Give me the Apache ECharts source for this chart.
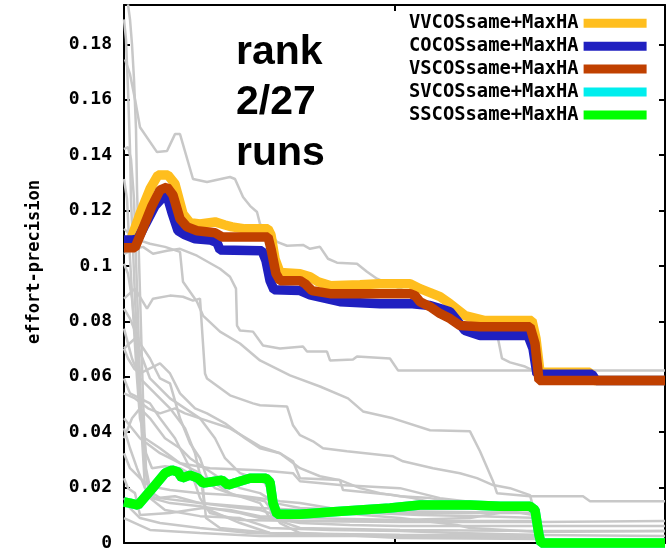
<!DOCTYPE html>
<html>
<head>
<meta charset="utf-8">
<script src="https://cdn.jsdelivr.net/npm/echarts/dist/echarts.min.js"></script>
<style>html,body{margin:0;padding:0;background:#fff}#c{width:668px;height:552px}</style>
</head>
<body>
<div id="c"></div>
<script>
// x: run step (0..541), y: effort-precision
const X_MAX = 541;
const Y_MAX = 0.1942;
const yTicks = [0, 0.02, 0.04, 0.06, 0.08, 0.1, 0.12, 0.14, 0.16, 0.18];
const seriesNames = ['VVCOSsame+MaxHA','COCOSsame+MaxHA','VSCOSsame+MaxHA','SVCOSsame+MaxHA','SSCOSsame+MaxHA'];
const seriesColors = ['#FFBE1E','#2020C0','#C04000','#00EEEE','#00FF00'];
const rankText = ['rank','2/27','runs'];

const VVCOS = [[0,0.1087],[6,0.1087],[16,0.1188],[26,0.1278],[34,0.1328],[44,0.1328],[51,0.1296],[59,0.1188],[66,0.1156],[76,0.1152],[91,0.1159],[101,0.1148],[108,0.1141],[121,0.1134],[144,0.1134],[147,0.1112],[151,0.1026],[156,0.0976],[176,0.0972],[186,0.0961],[194,0.0943],[206,0.0929],[236,0.0932],[256,0.0936],[286,0.0936],[296,0.0918],[306,0.0904],[316,0.0889],[326,0.0864],[341,0.0821],[361,0.0803],[408,0.0803],[412,0.0738],[416,0.0616],[466,0.0616],[470,0.0587],[541,0.0587]];
const COCOS = [[0,0.1094],[9,0.1094],[14,0.1098],[21,0.1148],[31,0.1217],[39,0.1249],[44,0.1242],[48,0.1192],[54,0.1127],[61,0.1112],[71,0.1098],[86,0.1094],[93,0.1084],[96,0.1058],[138,0.1055],[142,0.1019],[146,0.0947],[150,0.0914],[176,0.0911],[186,0.0896],[216,0.0871],[256,0.0864],[286,0.0864],[306,0.0857],[316,0.0846],[326,0.0835],[341,0.0767],[356,0.0749],[404,0.0749],[409,0.0702],[413,0.0609],[468,0.0609],[472,0.0587],[541,0.0587]];
const VSCOS = [[0,0.1066],[11,0.1066],[18,0.1127],[28,0.1217],[36,0.1274],[43,0.1285],[49,0.1256],[56,0.117],[63,0.1141],[73,0.1127],[91,0.112],[98,0.1105],[111,0.1105],[144,0.1105],[147,0.1062],[152,0.0972],[156,0.0947],[176,0.0947],[181,0.0936],[188,0.0911],[206,0.09],[286,0.09],[291,0.0893],[296,0.0871],[306,0.0853],[316,0.0828],[326,0.081],[336,0.0785],[356,0.0781],[406,0.0781],[411,0.072],[415,0.0587],[541,0.0587]];
const SVCOS = [[0,0.0148],[6,0.0144],[14,0.0137],[26,0.0187],[41,0.0252],[48,0.0263],[54,0.0256],[58,0.0234],[66,0.0245],[74,0.0234],[79,0.0216],[91,0.0223],[98,0.0227],[104,0.0209],[116,0.0223],[126,0.0234],[142,0.0234],[146,0.022],[149,0.0144],[153,0.0104],[176,0.0104],[206,0.0112],[236,0.0119],[266,0.0126],[296,0.0137],[326,0.0137],[346,0.0137],[376,0.0133],[406,0.0133],[411,0.0119],[415,0.0029],[417,0],[541,0]];
const SSCOS = [[0,0.0148],[6,0.0144],[14,0.0137],[26,0.0187],[41,0.0252],[48,0.0263],[54,0.0256],[58,0.0234],[66,0.0245],[74,0.0234],[79,0.0216],[91,0.0223],[98,0.0227],[104,0.0209],[116,0.0223],[126,0.0234],[142,0.0234],[146,0.022],[149,0.0144],[153,0.0104],[176,0.0104],[206,0.0112],[236,0.0119],[266,0.0126],[296,0.0137],[326,0.0137],[346,0.0137],[376,0.0133],[406,0.0133],[411,0.0119],[415,0.0029],[417,0],[541,0]];

const run01 = [[4,0.1944],[6,0.189],[8,0.18],[10,0.1674],[12,0.1494],[13,0.1278],[15,0.1026],[17,0.0774],[19,0.0522],[22,0.027],[28,0.0162],[46,0.0144],[76,0.0133],[116,0.0108],[136,0.009],[176,0.0079],[276,0.0076],[414,0.0076],[541,0.0079]];
const run02 = [[0,0.1422],[4,0.1429],[7,0.1386],[10,0.1242],[12,0.1026],[14,0.081],[16,0.0594],[18,0.0378],[21,0.0198],[36,0.0162],[76,0.0144],[136,0.0126],[176,0.0119],[276,0.0108],[406,0.0108],[416,0.009]];
const run03 = [[1,0.1746],[6,0.1692],[11,0.1602],[16,0.1501],[33,0.1411],[43,0.1415],[51,0.1476],[56,0.1476],[69,0.1314],[83,0.1303],[106,0.1321],[111,0.1314],[119,0.1249],[126,0.1217],[133,0.1195],[136,0.1152],[148,0.1109],[153,0.1087],[163,0.1073],[179,0.1076],[186,0.1062],[196,0.1069],[204,0.1026],[213,0.1012],[233,0.1008],[243,0.0979],[253,0.0954],[276,0.0918],[296,0.0882],[326,0.0817],[361,0.0749],[374,0.0738],[378,0.0666],[386,0.0652],[401,0.0637],[409,0.0623],[414,0.0587],[541,0.0587]];
const run04 = [[0,0.1044],[11,0.1062],[19,0.1069],[29,0.1044],[43,0.1055],[56,0.1062],[73,0.1037],[96,0.099],[106,0.0961],[112,0.0918],[113,0.0785],[116,0.0767],[129,0.0763],[139,0.0713],[156,0.0702],[179,0.0709],[183,0.0691],[203,0.0691],[206,0.0659],[229,0.0662],[233,0.0673],[266,0.0666],[274,0.0623],[541,0.0623]];
const run05 = [[0,0.1134],[11,0.1098],[26,0.108],[41,0.1069],[56,0.1051],[59,0.0943],[73,0.0871],[79,0.0821],[96,0.0763],[116,0.072],[136,0.0659],[166,0.0605],[196,0.0565],[224,0.0522],[239,0.0475],[269,0.045],[306,0.0407],[346,0.0403],[356,0.0331],[369,0.0223],[373,0.018],[406,0.0169],[459,0.0169],[466,0.0151],[541,0.0151]];
const run06 = [[0,0.0882],[11,0.0918],[23,0.0846],[29,0.0882],[46,0.0893],[59,0.0889],[69,0.0875],[76,0.0882],[78,0.0774],[81,0.0612],[83,0.0594],[106,0.0533],[129,0.0504],[136,0.0497],[163,0.0493],[169,0.0425],[176,0.0389],[189,0.0367],[199,0.0342],[223,0.0331],[269,0.0313],[279,0.0295],[309,0.027],[336,0.0252],[353,0.0234],[369,0.0209],[386,0.0198],[406,0.0173],[412,0.009],[416,0.0054]];
const run07 = [[0,0.0702],[11,0.0738],[26,0.0594],[46,0.0522],[76,0.045],[106,0.0414],[136,0.0349],[156,0.0324],[169,0.0295],[176,0.0234],[216,0.0227],[219,0.0191],[269,0.0173],[289,0.0162],[303,0.0151],[323,0.0137],[376,0.0126],[406,0.0119],[414,0.0043],[541,0.0043]];
const run08 = [[0,0.045],[16,0.0378],[36,0.0324],[56,0.0288],[86,0.027],[136,0.0263],[169,0.0252],[176,0.0223],[216,0.0209],[276,0.0198],[316,0.0162],[356,0.0144],[406,0.0133],[413,0.0025]];
const run09 = [[0,0.189],[2,0.1818],[4,0.1638],[6,0.1422],[7,0.1242],[9,0.1062],[11,0.0882],[14,0.0666],[17,0.045],[21,0.027],[26,0.0162],[41,0.0119],[76,0.0097],[116,0.009],[146,0.0054],[206,0.0047],[276,0.0043],[334,0.0036],[414,0.0029],[541,0.0025]];
const run10 = [[0,0.1314],[3,0.1242],[6,0.1026],[10,0.0774],[13,0.0594],[16,0.045],[21,0.0378],[36,0.0342],[56,0.0288],[76,0.0252],[81,0.0126],[116,0.0072],[146,0.0036],[276,0.0025],[416,0.0018]];
const run11 = [[0,0.0846],[6,0.081],[16,0.072],[26,0.0666],[36,0.0594],[46,0.0576],[56,0.045],[66,0.036],[76,0.0306],[83,0.0234],[106,0.018],[136,0.0144],[146,0.009],[176,0.0072],[226,0.0065],[276,0.0061],[406,0.0061],[541,0.0061]];
const run12 = [[0,0.0774],[8,0.0666],[16,0.0594],[31,0.054],[46,0.0486],[61,0.0414],[71,0.0324],[79,0.0198],[82,0.009],[96,0.0054],[146,0.0036],[276,0.0029],[416,0.0025]];
const run13 = [[0,0.0594],[6,0.054],[16,0.0522],[26,0.0504],[36,0.045],[51,0.0378],[66,0.027],[76,0.0162],[86,0.0108],[116,0.0083],[176,0.0079],[276,0.0079],[414,0.0079]];
const run14 = [[0,0.0414],[6,0.0342],[13,0.027],[21,0.0198],[31,0.0162],[51,0.0169],[76,0.0144],[116,0.0126],[136,0.0119],[146,0.0108],[176,0.0101],[216,0.0108],[276,0.009],[333,0.0065],[346,0.0054],[416,0.004],[541,0.0043]];
const run15 = [[0,0.0234],[4,0.0198],[11,0.018],[16,0.0101],[46,0.0108],[79,0.0126],[106,0.0119],[136,0.0097],[176,0.009],[276,0.0083],[346,0.009],[386,0.0115],[409,0.0101],[414,0.0065]];
const run16 = [[0,0.0162],[6,0.0126],[16,0.009],[36,0.0072],[76,0.0054],[126,0.0036],[176,0.0032],[276,0.0029],[416,0.0029]];
const run17 = [[0,0.009],[11,0.0072],[26,0.0047],[76,0.0036],[136,0.0025],[226,0.0025],[416,0.0025]];
const run18 = [[0,0.1008],[4,0.0972],[8,0.0882],[12,0.0738],[15,0.0594],[18,0.045],[22,0.0324],[28,0.027],[41,0.0277],[56,0.027],[71,0.0241],[81,0.0234],[91,0.0198],[111,0.0173],[136,0.0162],[156,0.0151],[176,0.0144],[206,0.0126],[246,0.0108],[296,0.0101],[356,0.0097],[416,0.009]];
const run19 = [[0,0.054],[11,0.0522],[24,0.0486],[36,0.0468],[51,0.0486],[61,0.0468],[76,0.045],[91,0.0378],[101,0.0306],[116,0.0252],[131,0.0234],[141,0.0216],[146,0.018],[151,0.0144],[176,0.0126],[226,0.0119],[276,0.0115],[416,0.0108]];
const run20 = [[0,0.0378],[8,0.045],[16,0.0486],[26,0.045],[41,0.0378],[56,0.0342],[66,0.0306],[81,0.027],[96,0.0234],[116,0.0198],[136,0.018],[144,0.0162],[148,0.009],[176,0.0054],[276,0.0047],[416,0.0043]];
const run21 = [[0,0.0324],[6,0.027],[16,0.0234],[26,0.0205],[46,0.0191],[76,0.018],[106,0.0173],[126,0.0162],[141,0.0151],[146,0.0126],[156,0.0072],[176,0.0036],[276,0.0018],[416,0.0014]];
const run22 = [[0,0.0702],[4,0.0666],[10,0.063],[16,0.0612],[26,0.063],[36,0.0648],[46,0.0612],[56,0.054],[71,0.0486],[83,0.0468],[101,0.0432],[121,0.0378],[136,0.0342],[156,0.0324],[176,0.027],[196,0.0241],[216,0.0227],[236,0.0198],[256,0.018],[276,0.0169],[306,0.0162],[336,0.0144],[376,0.0133],[416,0.0119]];
const grayRuns = [run01,run02,run03,run04,run05,run06,run07,run08,run09,run10,run11,run12,run13,run14,run15,run16,run17,run18,run19,run20,run21,run22];
const mainRuns = [VVCOS, COCOS, VSCOS, SVCOS, SSCOS];

const chart = echarts.init(document.getElementById('c'), null, {renderer:'canvas'});
const MONO = 'DejaVu Sans Mono';
const axisLineStyle = {color:'#000', width:2};
function tickFmt(v){
  for (const t of yTicks) if (Math.abs(v - t) < 1e-9) return String(t);
  return '';
}
const series = [];
grayRuns.forEach((d,i)=>{
  series.push({type:'line', name:'run'+(i+1), data:d, showSymbol:false, silent:true, clip:false,
    lineStyle:{color:'#C8C8C8', width:2.5}, itemStyle:{color:'#C8C8C8'}, z:2});
});
mainRuns.forEach((d,i)=>{
  series.push({type:'line', name:seriesNames[i], data:d, showSymbol:false, silent:true, clip:false,
    lineStyle:{color:seriesColors[i], width:9.5, join:'bevel'}, itemStyle:{color:seriesColors[i]}, z:3});
});
const option = {
  animation:false,
  backgroundColor:'#fff',
  grid:{left:124, right:3, top:5, bottom:7},
  xAxis:[
    {type:'value', min:0, max:X_MAX, interval:X_MAX/2, axisLine:{show:true, onZero:false, lineStyle:axisLineStyle},
     axisTick:{show:true, inside:true, length:6, lineStyle:axisLineStyle}, axisLabel:{show:false}, splitLine:{show:false}},
    {type:'value', position:'top', min:0, max:X_MAX, interval:X_MAX/2, axisLine:{show:true, onZero:false, lineStyle:axisLineStyle},
     axisTick:{show:true, inside:true, length:6, lineStyle:axisLineStyle}, axisLabel:{show:false}, splitLine:{show:false}}
  ],
  yAxis:[
    {type:'value', min:0, max:Y_MAX, interval:0.02, axisLine:{show:true, onZero:false, lineStyle:axisLineStyle},
     axisTick:{show:true, inside:true, length:6, lineStyle:axisLineStyle},
     axisLabel:{show:true, margin:12, color:'#000', fontFamily:MONO, fontWeight:'bold', fontSize:18, formatter:tickFmt, showMaxLabel:false},
     splitLine:{show:false}},
    {type:'value', position:'right', min:0, max:Y_MAX, interval:0.02, axisLine:{show:true, onZero:false, lineStyle:axisLineStyle},
     axisTick:{show:true, inside:true, length:6, lineStyle:axisLineStyle}, axisLabel:{show:false}, splitLine:{show:false}}
  ],
  legend:{
    data:seriesNames, orient:'vertical', left:404, top:8.8, align:'right', icon:'rect',
    itemWidth:63, itemHeight:9, itemGap:3.9, selectedMode:false,
    textStyle:{fontFamily:MONO, fontWeight:'bold', fontSize:18.8, color:'#000', lineHeight:19}
  },
  graphic:[
    {type:'text', x:35, y:262, rotation:Math.PI/2, style:{text:'effort-precision', fontFamily:MONO, fontWeight:'bold', fontSize:17, fill:'#000', align:'center', verticalAlign:'middle'}},
    {type:'text', x:236, y:53, style:{text:rankText[0], fontFamily:'Liberation Sans', fontWeight:'bold', fontSize:41, fill:'#000', align:'left', verticalAlign:'middle'}},
    {type:'text', x:236, y:103, style:{text:rankText[1], fontFamily:'Liberation Sans', fontWeight:'bold', fontSize:41, fill:'#000', align:'left', verticalAlign:'middle'}},
    {type:'text', x:236, y:154, style:{text:rankText[2], fontFamily:'Liberation Sans', fontWeight:'bold', fontSize:41, fill:'#000', align:'left', verticalAlign:'middle'}}
  ],
  series:series
};
chart.setOption(option);
</script>
</body>
</html>
